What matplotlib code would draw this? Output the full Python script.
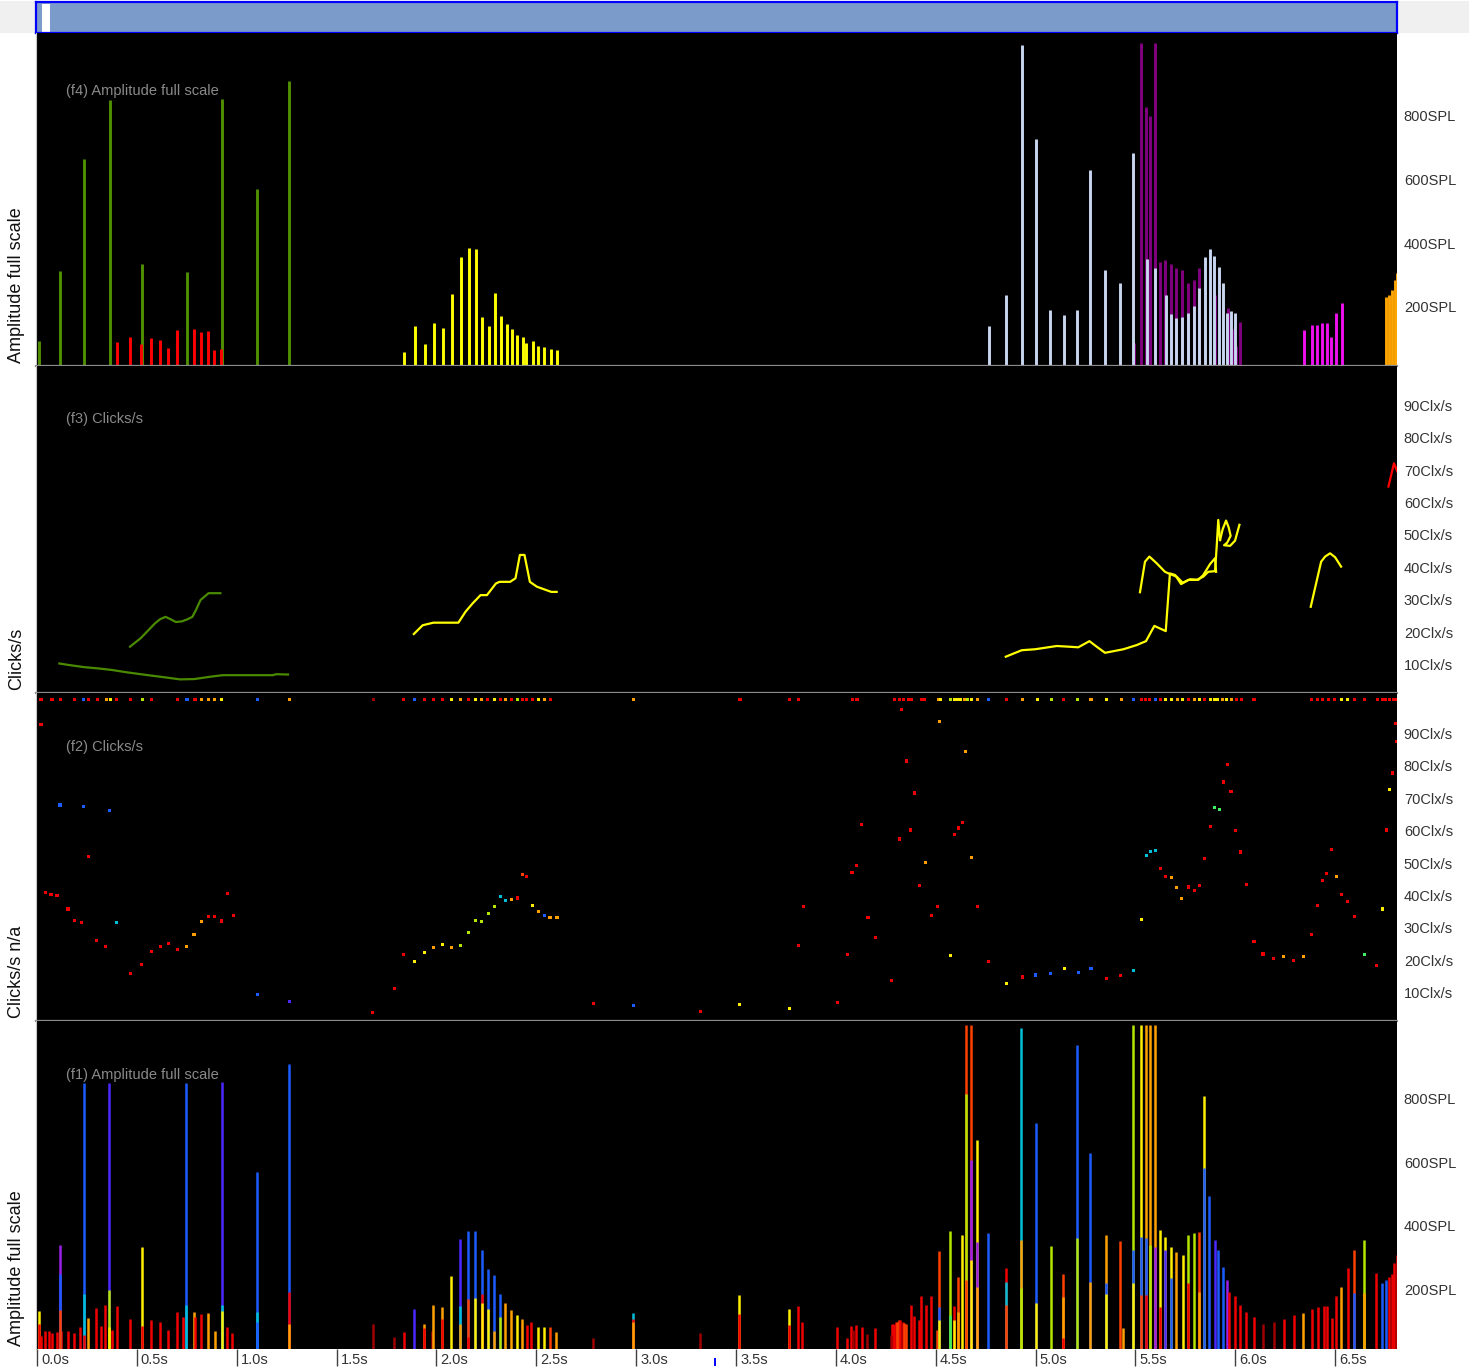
import matplotlib
matplotlib.use("Agg")
import matplotlib.pyplot as plt
from matplotlib.patches import Rectangle
from matplotlib.transforms import blended_transform_factory

plt.rcParams["font.family"] = ["Liberation Sans", "DejaVu Sans"]

# ---- dados (tempo em s, amplitude em SPL, taxa em Clx/s) ----
cores = {"r": "#f00000", "d": "#a00000", "n": "#ff4000", "o": "#ffa000",
         "y": "#ffee00", "g": "#b4e600", "G": "#40f060", "c": "#00c0d8",
         "b": "#1c5cff", "v": "#4a28ff", "p": "#9a20e8"}

# (f4) trens classificados
f4_verde_t = [0.008, 0.114, 0.233, 0.364, 0.528, 0.749, 0.927, 1.102, 1.262]
f4_verde_v = [98, 318, 669, 853, 339, 314, 856, 575, 913]
f4_verm_t = [0.399, 0.468, 0.521, 0.571, 0.618, 0.657, 0.703, 0.787, 0.822, 0.856, 0.887, 0.922]
f4_verm_v = [94, 110, 87, 107, 101, 76, 132, 135, 126, 129, 69, 73]
f4_amar_t = [1.836, 1.891, 1.941, 1.987, 2.031, 2.076, 2.121, 2.162, 2.197, 2.226, 2.261, 2.292,
             2.323, 2.352, 2.378, 2.406, 2.432, 2.451, 2.482, 2.511, 2.540, 2.574, 2.605]
f4_amar_v = [64, 145, 89, 154, 139, 244, 362, 389, 386, 173, 145, 247,
             176, 151, 136, 116, 111, 92, 98, 83, 79, 73, 70]
f4_roxo_t = [5.492, 5.530, 5.553, 5.575, 5.600, 5.625, 5.648, 5.678, 5.703, 5.733, 5.763, 5.792,
             5.818, 5.898, 5.963, 5.983, 6.003, 6.023]
f4_roxo_v = [91, 1034, 832, 804, 1034, 345, 353, 340, 326, 319, 278, 288,
             326, 241, 200, 134, 81, 156]
f4_claro_t = [4.767, 4.852, 4.931, 5.001, 5.074, 5.141, 5.209, 5.274, 5.349, 5.424, 5.486, 5.556,
              5.596, 5.653, 5.678, 5.703, 5.733, 5.763, 5.792, 5.820, 5.848, 5.873, 5.894, 5.918,
              5.938, 5.958, 5.977, 5.999]
f4_claro_v = [144, 243, 1026, 730, 194, 178, 194, 635, 319, 281, 686, 356,
              326, 243, 181, 170, 173, 184, 206, 263, 360, 387, 363, 329,
              278, 184, 191, 186]
f4_mag_t = [6.343, 6.383, 6.411, 6.436, 6.458, 6.481, 6.506, 6.533]
f4_mag_v = [131, 147, 147, 153, 153, 109, 184, 216]
f4_lar_t = [6.754, 6.769, 6.784, 6.799, 6.812]
f4_lar_v = [235, 241, 257, 288, 312]

# (f3) taxa de cliques por trem
f3_verde1_t = [0.466, 0.519, 0.591, 0.617, 0.644, 0.671, 0.695, 0.725, 0.752, 0.778, 0.796, 0.819, 0.859, 0.918]
f3_verde1_v = [16.0, 18.6, 23.2, 24.5, 25.2, 24.4, 23.6, 23.8, 24.4, 25.2, 27.3, 30.4, 32.5, 32.5]
f3_verde2_t = [0.112, 0.153, 0.233, 0.304, 0.376, 0.448, 0.555, 0.645, 0.716, 0.787, 0.877, 0.930,
               1.038, 1.181, 1.198, 1.257]
f3_verde2_v = [10.8, 10.4, 9.7, 9.3, 8.8, 8.1, 7.2, 6.5, 5.9, 6.0, 6.8, 7.2, 7.2, 7.2, 7.5, 7.4]
f3_amar1_t = [1.887, 1.931, 1.985, 2.110, 2.146, 2.182, 2.221, 2.253, 2.298, 2.316, 2.369, 2.396,
              2.418, 2.441, 2.468, 2.503, 2.548, 2.575, 2.602]
f3_amar1_v = [19.9, 22.6, 23.4, 23.4, 26.8, 29.4, 31.9, 31.9, 35.5, 36.0, 36.0, 37.1,
              44.3, 44.3, 36.0, 34.5, 33.5, 32.9, 32.9]
f3_amar2_t = [4.851, 4.931, 4.998, 5.106, 5.164, 5.214, 5.270, 5.306, 5.348, 5.440, 5.507, 5.553,
              5.595, 5.652, 5.673, 5.699, 5.729, 5.765, 5.807, 5.840, 5.865, 5.899, 5.907, 5.915, 5.924]
f3_amar2_v = [12.9, 14.9, 15.2, 16.2, 16.0, 15.8, 17.7, 16.0, 14.1, 15.2, 16.5, 17.7,
              22.4, 20.8, 38.6, 38.1, 35.3, 36.6, 36.6, 37.6, 39.1, 39.3, 46.8, 55.1, 48.9]
f3_amar3_t = [5.523, 5.548, 5.570, 5.607, 5.648, 5.673, 5.707, 5.737, 5.774, 5.815, 5.840, 5.874, 5.899, 5.904]
f3_amar3_v = [32.8, 42.2, 43.8, 41.7, 39.1, 38.4, 37.6, 35.7, 36.8, 36.6, 38.1, 41.5, 43.3, 39.1]
f3_amar4_t = [5.924, 5.937, 5.954, 5.967, 5.977, 5.960, 5.944, 5.974, 5.999, 6.021]
f3_amar4_v = [48.9, 52.2, 54.9, 52.8, 50.2, 48.1, 47.3, 47.1, 48.7, 53.6]
f3_amar5_t = [6.378, 6.430, 6.450, 6.475, 6.500, 6.530]
f3_amar5_v = [28.3, 42.2, 43.8, 44.8, 43.6, 40.7]
f3_verm_t = [6.767, 6.795, 6.812]
f3_verm_v = [65.4, 72.6, 70.0]

# (f2) taxa de cliques, todos os cliques
f2_t = [0.020, 0.115, 0.235, 0.363, 0.259, 0.044, 0.070, 0.100, 0.155, 0.186, 0.221, 0.399,
        0.299, 0.344, 0.469, 0.524, 0.573, 0.618, 0.659, 0.704, 0.748, 0.786, 0.824, 0.859,
        0.890, 0.923, 0.954, 0.985, 1.103, 1.264, 1.682, 1.788, 1.836, 1.890, 1.942, 1.985,
        2.030, 2.077, 2.119, 2.159, 2.195, 2.226, 2.259, 2.290, 2.320, 2.346, 2.377, 2.408,
        2.429, 2.450, 2.481, 2.509, 2.540, 2.569, 2.604, 2.788, 2.989, 3.322, 3.517,
        3.766, 3.811, 3.837, 4.008, 4.059, 4.081, 4.104, 4.130, 4.161, 4.200, 4.278, 4.320,
        4.329, 4.352, 4.374, 4.393, 4.418, 4.449, 4.479, 4.510, 4.519, 4.573, 4.594, 4.613,
        4.634, 4.650, 4.678, 4.709, 4.763, 4.854, 4.934, 5.002, 5.077, 5.143, 5.213, 5.278,
        5.354, 5.426, 5.489, 5.531, 5.555, 5.576, 5.599, 5.625, 5.651, 5.682, 5.705, 5.733,
        5.766, 5.794, 5.820, 5.848, 5.874, 5.895, 5.920, 5.940, 5.961, 5.979, 6.000, 6.026,
        6.057, 6.094, 6.139, 6.192, 6.241, 6.293, 6.343, 6.382, 6.413, 6.439, 6.457, 6.483,
        6.509, 6.532, 6.563, 6.598, 6.647, 6.708, 6.736, 6.757, 6.774, 6.788, 6.802, 6.808]
f2_v = [93.4, 68.4, 67.9, 66.6, 52.4, 41.4, 40.7, 40.4, 36.3, 32.8, 32.0, 32.0,
        26.6, 24.6, 16.4, 19.2, 23.2, 24.6, 25.5, 23.8, 24.6, 28.3, 32.5, 33.9,
        33.9, 32.6, 41.0, 34.2, 10.0, 7.7, 4.2, 11.7, 22.2, 20.1, 22.9, 24.4,
        25.4, 24.4, 25.0, 29.1, 32.8, 32.5, 34.9, 37.0, 40.1, 38.8, 39.1, 39.7,
        46.9, 46.2, 37.3, 35.4, 34.2, 33.6, 33.6, 7.2, 6.6, 4.7, 6.9,
        5.6, 24.9, 37.0, 7.4, 22.2, 47.5, 49.6, 62.5, 33.6, 27.5, 14.2, 57.9,
        97.9, 82.0, 60.7, 72.1, 43.5, 50.6, 34.2, 37.0, 94.2, 21.9, 59.4, 61.3,
        62.9, 84.8, 52.3, 37.0, 20.1, 13.3, 15.3, 15.9, 16.4, 17.9, 16.7, 17.9,
        14.8, 15.8, 17.3, 33.1, 52.7, 54.0, 54.3, 48.7, 46.2, 45.9, 42.8, 39.4,
        43.1, 42.1, 43.5, 52.0, 61.7, 67.5, 67.1, 75.5, 81.0, 72.7, 60.4, 53.9,
        43.8, 26.2, 22.4, 21.0, 21.6, 20.4, 21.6, 28.3, 37.3, 45.2, 47.2, 54.8,
        46.2, 40.7, 38.5, 33.9, 22.2, 18.9, 36.3, 60.7, 73.3, 78.3, 93.6, 87.9]
f2_c = list("rbbbrrrrrrrc" "rrrrrrrrooor" "rrrrbvrrryyo" "yoggggggccor" "nryoboorbry"
            "yrrrrrrrrrrr" "rrrrrorroyrr" "roorryrbbybb" "rrcycccrrooo" "rrrrrGGrrrrr"
            "rrrrororrrrr" "orrrGryryrrr")
# linha superior (cliques sem taxa)
f2_sup_t = [0.020, 0.075, 0.117, 0.186, 0.235, 0.259, 0.301, 0.349, 0.366, 0.399, 0.469, 0.528,
            0.573, 0.704, 0.751, 0.791, 0.824, 0.857, 0.890, 0.925, 1.103, 1.263, 1.685, 1.836,
            1.890, 1.942, 1.985, 2.032, 2.077, 2.119, 2.159, 2.195, 2.225, 2.258, 2.290, 2.320,
            2.346, 2.377, 2.408, 2.429, 2.450, 2.481, 2.509, 2.540, 2.573, 2.989,
            3.520, 3.766, 3.811, 4.083, 4.106, 4.293, 4.317, 4.341, 4.364, 4.378, 4.427, 4.446,
            4.516, 4.523, 4.575, 4.593, 4.610, 4.626, 4.643, 4.661, 4.680, 4.711, 4.765, 4.856,
            4.933, 5.009, 5.079, 5.142, 5.212, 5.278, 5.355, 5.430, 5.489, 5.529, 5.550, 5.571,
            5.599, 5.625, 5.653, 5.681, 5.709, 5.737, 5.765, 5.794, 5.822, 5.847, 5.875, 5.897,
            5.911, 5.934, 5.957, 5.981, 6.005, 6.033, 6.094, 6.384, 6.412, 6.438, 6.468, 6.497,
            6.532, 6.563, 6.597, 6.646, 6.712, 6.736, 6.754, 6.773, 6.792, 6.810]
f2_sup_c = list("rrrrbrroyrrgrrbroooybodrbrrryoryoryrorgrrryoro"
                "rrrrrrrrrrrr" "oygyyyogyobr" "oygrgoyobrrr" "bryyoyroyryy" "yoyorrrrrrrr"
                "yyrrrrrrrr")
f2_sup_v = 101.0

# (f1) todos os cliques: topo da barra e segmentos inferiores
f1_t = [0.009, 0.018, 0.042, 0.058, 0.075, 0.098, 0.113, 0.122, 0.153, 0.183, 0.216, 0.233,
        0.257, 0.297, 0.320, 0.342, 0.363, 0.377, 0.399, 0.467, 0.528, 0.571, 0.618, 0.654,
        0.701, 0.732, 0.748, 0.784, 0.791, 0.822, 0.857, 0.890, 0.926, 0.952, 0.978, 1.101,
        1.261, 1.682, 1.786, 1.836, 1.888, 1.937, 1.980, 1.985, 2.030, 2.074, 2.117, 2.159,
        2.193, 2.226, 2.257, 2.287, 2.318, 2.344, 2.372, 2.403, 2.427, 2.453, 2.476, 2.507,
        2.538, 2.569, 2.599, 2.786, 2.985, 3.320, 3.514,
        3.764, 3.809, 3.832, 4.008, 4.055, 4.078, 4.101, 4.130, 4.158, 4.196, 4.282, 4.299,
        4.317, 4.334, 4.352, 4.376, 4.393, 4.428, 4.451, 4.475, 4.517, 4.571, 4.594, 4.610,
        4.631, 4.652, 4.676, 4.706, 4.763, 4.852, 4.929, 5.000, 5.075, 5.140, 5.208, 5.273,
        5.351, 5.424, 5.489, 5.529, 5.553, 5.574, 5.597, 5.623, 5.649, 5.679, 5.705, 5.738,
        5.764, 5.794, 5.817, 5.846, 5.871, 5.899, 5.916, 5.937, 5.958, 5.970, 5.998, 6.024,
        6.052, 6.096, 6.141, 6.192, 6.242, 6.293, 6.340, 6.385, 6.415, 6.444, 6.458, 6.505,
        6.531, 6.564, 6.597, 6.645, 6.706, 6.734, 6.755, 6.769, 6.783, 6.797, 6.810,
        4.084, 4.276, 4.290, 4.308, 4.323, 4.343, 4.415, 4.506, 5.436, 6.487]
f1_v = [137, 58, 74, 74, 67, 72, 346, 74, 74, 67, 86, 854,
        114, 147, 90, 156, 852, 77, 153, 112, 339, 109, 102, 77,
        134, 119, 852, 134, 119, 128, 131, 74, 856, 86, 67, 574,
        913, 96, 56, 71, 145, 96, 74, 156, 151, 247, 363, 390,
        387, 329, 268, 250, 192, 161, 140, 124, 112, 93, 102, 86,
        86, 86, 72, 51, 130, 67, 187,
        145, 153, 102, 87, 53, 90, 92, 88, 65, 83, 96, 103,
        109, 103, 98, 156, 121, 186, 155, 184, 325, 390, 153, 245,
        375, 1035, 1035, 674, 381, 271, 1025, 727, 342, 252, 972, 632,
        375, 357, 1035, 1035, 1035, 1035, 1035, 391, 370, 339, 323, 313,
        376, 381, 385, 812, 499, 360, 329, 276, 234, 198, 186, 156,
        135, 117, 98, 103, 111, 124, 130, 145, 151, 153, 153, 184,
        213, 271, 329, 360, 258, 224, 234, 245, 255, 287, 313,
        78, 62, 96, 104, 108, 100, 108, 77, 84, 115]
f1_c = list("yrrrrrprrrrb" "orrrvrrryrrr" "rrborroovrrb" "bddrvodooyvb" "bbbbbooyorry"
            "ynodcdy"
            "yrrrrrrrdrrr" "nrnrrrrrngrn" "ynnybrcbgnbb" "ongyoooyyyoy" "ggnybvbbprrr"
            "rrddrrorrrrr" "orngrbbrrrr"
            "ddrnrnrnor")
f1_meio_t = [0.009, 0.113, 0.233, 0.363, 0.528, 0.748, 0.926, 1.101, 1.261, 1.937, 2.030, 2.117,
             2.159, 2.193, 2.226, 2.257, 2.287, 2.318, 2.985, 3.514,
             3.764, 4.517, 4.571, 4.594, 4.610, 4.652, 4.676, 4.706, 4.852, 4.929, 5.000, 5.140,
             5.208, 5.273, 5.351, 5.489, 5.529, 5.553, 5.574, 5.597, 5.623, 5.649, 5.679, 5.764,
             5.817, 5.846, 6.597, 6.645]
f1_meio_v = [98, 255, 190, 203, 90, 156, 156, 133, 196, 83, 112, 153,
             175, 179, 192, 145, 74, 119, 111, 127,
             92, 149, 124, 109, 135, 819, 611, 355, 228, 360, 161, 182,
             368, 229, 224, 329, 370, 365, 344, 339, 151, 329, 242, 224,
             198, 587, 193, 193]
f1_meio_c = list("rbcgrcccrrrc" "nyryogrr" "rbGyogppcoyo" "gobbbbgprvbr" "obbo")
f1_base_t = [0.113, 0.233, 0.363, 0.926, 1.101, 1.261, 2.117, 2.159, 2.226, 2.985,
             4.517, 4.652, 4.676, 4.706, 4.852, 4.929, 5.140, 5.351, 5.489, 5.529, 5.553]
f1_base_v = [140, 62, 88, 137, 103, 96, 98, 56, 161, 103,
             109, 234, 297, 213, 156, 208, 51, 192, 224, 187, 187]
f1_base_c = list("nryybooryo" "ynyongryynr")

marcas_x = [0.0, 0.5, 1.0, 1.5, 2.0, 2.5, 3.0, 3.5, 4.0, 4.5, 5.0, 5.5, 6.0, 6.5]
marcas_spl = [200, 400, 600, 800]
marcas_clx = [10, 20, 30, 40, 50, 60, 70, 80, 90]
cursor_t = 3.395

# ---- figura ----
W, H = 1474, 1370
X0, X1 = -0.005, 6.810
fig = plt.figure(figsize=(W / 100, H / 100), dpi=100)
fig.patches.append(Rectangle((0, 1 - 33 / H), 1469 / W, 32 / H, transform=fig.transFigure,
                             facecolor="#f0f0f0", edgecolor="none", zorder=-5))


def caixa(y0, y1):
    return [36 / W, 1 - y1 / H, 1361 / W, (y1 - y0) / H]


def painel(y0, y1, ylim, sep=True):
    ax = fig.add_axes(caixa(y0, y1))
    ax.set_facecolor("black")
    ax.set_xlim(X0, X1)
    ax.set_ylim(*ylim)
    ax.set_xticks([])
    ax.set_yticks([])
    for s in ax.spines.values():
        s.set_visible(False)
    ax.spines["left"].set_visible(True)
    ax.spines["left"].set_color("#c8c8c8")
    if sep:
        ax.spines["bottom"].set_visible(True)
        ax.spines["bottom"].set_color("#8c8c8c")
        ax.spines["bottom"].set_linewidth(1.6)
    return ax


def rotulos(ax, valores, unidade):
    tr = blended_transform_factory(ax.transAxes, ax.transData)
    for v in valores:
        ax.text(1.005, v, f"{v}{unidade}", transform=tr, ha="left", va="center",
                fontsize=10.5, color="#333333")


# barra de rolagem superior
topo = fig.add_axes(caixa(2, 33))
topo.set_facecolor("#7b9bcb")
topo.set_xlim(X0, X1)
topo.set_ylim(0, 1)
topo.set_xticks([])
topo.set_yticks([])
for s in topo.spines.values():
    s.set_color("#0000ff")
    s.set_linewidth(1.6)
topo.add_patch(Rectangle((0.025, 0), 0.04, 0.95, facecolor="white", edgecolor="none"))

ax4 = painel(33, 366, (19, 1064))
ax3 = painel(366, 693, (1.7, 102.6))
ax2 = painel(693, 1021, (1.7, 103.0))
ax1 = painel(1021, 1349, (18, 1048), sep=False)

# f4
lw4 = 2.1
ax4.vlines(f4_verde_t, 0, f4_verde_v, colors="#4f8f00", lw=lw4)
ax4.vlines(f4_verm_t, 0, f4_verm_v, colors="#ff0000", lw=lw4)
ax4.vlines(f4_amar_t, 0, f4_amar_v, colors="#ffff00", lw=lw4)
ax4.vlines(f4_roxo_t, 0, f4_roxo_v, colors="#800080", lw=lw4)
ax4.vlines(f4_claro_t, 0, f4_claro_v, colors="#c8d6f0", lw=lw4)
ax4.vlines(f4_mag_t, 0, f4_mag_v, colors="#ee10ee", lw=lw4)
ax4.vlines(f4_lar_t, 0, f4_lar_v, colors="#ffa500", lw=lw4)

# f3
lw3 = 1.6
ax3.plot(f3_verde1_t, f3_verde1_v, color="#4a8a00", lw=lw3)
ax3.plot(f3_verde2_t, f3_verde2_v, color="#4a8a00", lw=lw3)
for tt, vv in [(f3_amar1_t, f3_amar1_v), (f3_amar2_t, f3_amar2_v), (f3_amar3_t, f3_amar3_v),
               (f3_amar4_t, f3_amar4_v), (f3_amar5_t, f3_amar5_v)]:
    ax3.plot(tt, vv, color="#ffff00", lw=lw3)
ax3.plot(f3_verm_t, f3_verm_v, color="#ff0000", lw=lw3)

# f2
ax2.scatter(f2_t, f2_v, c=[cores[k] for k in f2_c], marker="s", s=5, linewidths=0)
ax2.scatter(f2_sup_t, [f2_sup_v] * len(f2_sup_t), c=[cores[k] for k in f2_sup_c],
            marker="s", s=5, linewidths=0)

# f1
lw1 = 1.8
ax1.vlines(f1_t, 0, f1_v, colors=[cores[k] for k in f1_c], lw=lw1)
ax1.vlines(f1_meio_t, 0, f1_meio_v, colors=[cores[k] for k in f1_meio_c], lw=lw1)
ax1.vlines(f1_base_t, 0, f1_base_v, colors=[cores[k] for k in f1_base_c], lw=lw1)

rotulos(ax4, marcas_spl, "SPL")
rotulos(ax3, marcas_clx, "Clx/s")
rotulos(ax2, marcas_clx, "Clx/s")
rotulos(ax1, marcas_spl, "SPL")

for ax, texto, y_px, y0, y1 in [(ax4, "(f4) Amplitude full scale", 91, 33, 366),
                                (ax3, "(f3) Clicks/s", 419, 366, 693),
                                (ax2, "(f2) Clicks/s", 747, 693, 1021),
                                (ax1, "(f1) Amplitude full scale", 1075, 1021, 1349)]:
    ax.text(30 / 1361, (y1 - y_px) / (y1 - y0), texto, transform=ax.transAxes,
            ha="left", va="center", fontsize=10.5, color="#8a8a8a")

for texto, y_base in [("Amplitude full scale", 363), ("Clicks/s", 690),
                      ("Clicks/s n/a", 1018), ("Amplitude full scale", 1346)]:
    fig.text(17 / W, 1 - y_base / H, texto, rotation=90, ha="center", va="bottom",
             fontsize=13, color="#111111")

# eixo do tempo
trx = blended_transform_factory(ax1.transData, ax1.transAxes)
ax1.vlines(marcas_x, -17 / 328, 0, colors="#404040", lw=1.0, transform=trx, clip_on=False)
for t in marcas_x:
    ax1.annotate(f"{t:.1f}s", (t, -11 / 328), xycoords=trx, xytext=(4, 0),
                 textcoords="offset pixels", ha="left", va="center", fontsize=10.5,
                 color="#333333", annotation_clip=False)
ax1.vlines([cursor_t], -17 / 328, -9 / 328, colors="#0000ff", lw=1.4, transform=trx, clip_on=False)

fig.savefig("out.png", dpi=100)
